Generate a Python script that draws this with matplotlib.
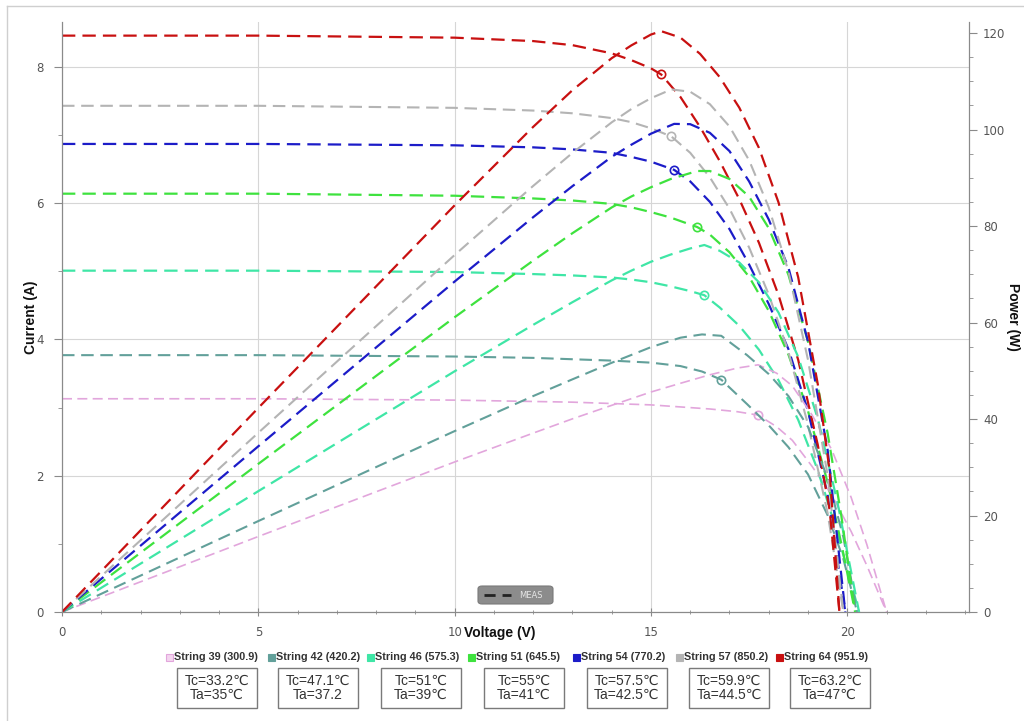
import matplotlib.pyplot as plt
from matplotlib.patches import Rectangle, FancyBboxPatch
from matplotlib.lines import Line2D
import numpy as np

# ---- data ----
labels = ['String 39 (300.9)', 'String 42 (420.2)', 'String 46 (575.3)', 'String 51 (645.5)',
          'String 54 (770.2)', 'String 57 (850.2)', 'String 64 (951.9)']
colors = ['#e2a6dc', '#62a09a', '#3fe6a6', '#3ee23e', '#1c1cc8', '#b4b4b4', '#c81010']

v39 = [0, 5, 10, 12, 13, 14, 15, 15.75, 16.5, 17.2, 17.73, 18.2, 18.6, 19.1, 19.6, 20.1, 20.5, 21.0]
i39 = [3.13, 3.13, 3.11, 3.09, 3.08, 3.06, 3.04, 3.01, 2.98, 2.94, 2.89, 2.72, 2.52, 2.14, 1.72, 1.18, 0.68, 0]

v42 = [0, 5, 10, 12, 13, 14, 15, 15.75, 16.3, 16.79, 17.45, 18, 18.5, 19, 19.5, 19.9, 20.25]
i42 = [3.77, 3.77, 3.75, 3.73, 3.71, 3.69, 3.66, 3.61, 3.53, 3.41, 3.05, 2.74, 2.42, 2.02, 1.42, 0.78, 0]

v46 = [0, 5, 10, 12, 13, 14, 14.5, 15, 15.5, 16, 16.36, 16.75, 17.25, 17.75, 18.25, 18.75, 19.25, 19.75, 20.3]
i46 = [5.01, 5.01, 4.99, 4.96, 4.94, 4.91, 4.88, 4.84, 4.78, 4.71, 4.65, 4.47, 4.20, 3.85, 3.40, 2.82, 2.08, 1.15, 0]

v51 = [0, 5, 10, 12, 13, 14, 14.5, 15, 15.5, 16.18, 16.5, 17, 17.5, 18, 18.5, 19, 19.5, 19.85, 20.2]
i51 = [6.14, 6.14, 6.11, 6.07, 6.04, 5.99, 5.94, 5.87, 5.79, 5.65, 5.54, 5.28, 4.92, 4.42, 3.78, 2.95, 1.90, 1.00, 0]

v54 = [0, 5, 10, 12, 13, 14, 14.5, 15, 15.59, 16, 16.5, 17, 17.5, 18, 18.5, 19, 19.5, 19.95]
i54 = [6.87, 6.87, 6.85, 6.82, 6.79, 6.74, 6.68, 6.61, 6.49, 6.32, 6.02, 5.62, 5.10, 4.52, 3.86, 2.95, 1.72, 0]

v57 = [0, 5, 10, 12, 13, 14, 14.5, 15, 15.52, 16, 16.5, 17, 17.5, 18, 18.5, 19, 19.5, 19.9]
i57 = [7.43, 7.43, 7.40, 7.36, 7.32, 7.25, 7.19, 7.10, 6.98, 6.74, 6.38, 5.92, 5.35, 4.66, 3.82, 2.75, 1.45, 0]

v64 = [0, 5, 10, 12, 13, 14, 14.5, 15, 15.26, 15.75, 16.25, 16.75, 17.25, 17.75, 18.25, 18.75, 19.25, 19.55, 19.8]
i64 = [8.46, 8.46, 8.43, 8.38, 8.32, 8.20, 8.10, 7.98, 7.89, 7.56, 7.12, 6.62, 6.06, 5.42, 4.65, 3.70, 2.45, 1.50, 0]

# maximum power points (circles)
mpp_v = [17.73, 16.79, 16.36, 16.18, 15.59, 15.52, 15.26]
mpp_i = [2.89, 3.41, 4.65, 5.65, 6.49, 6.98, 7.89]

tc_labels = ['Tc=33.2℃', 'Tc=47.1℃', 'Tc=51℃', 'Tc=55℃', 'Tc=57.5℃', 'Tc=59.9℃', 'Tc=63.2℃']
ta_labels = ['Ta=35℃', 'Ta=37.2', 'Ta=39℃', 'Ta=41℃', 'Ta=42.5℃', 'Ta=44.5℃', 'Ta=47℃']

volts = [v39, v42, v46, v51, v54, v57, v64]
amps = [i39, i42, i46, i51, i54, i57, i64]
widths = [1.2, 1.5, 1.6, 1.6, 1.6, 1.5, 1.6]

W, H = 1024, 721
FAM = ['Liberation Sans', 'DejaVu Sans']


def fx(px):
    return px / W


def fy(py):
    return 1 - py / H


fig = plt.figure(figsize=(10.24, 7.21), dpi=100)
ax = fig.add_axes([fx(62), fy(612), fx(969) - fx(62), fy(22) - fy(612)])
ax2 = ax.twinx()

for k in range(7):
    v = np.array(volts[k])
    i = np.array(amps[k])
    ax.plot(v, i, color=colors[k], lw=widths[k], dashes=(6, 3.2))
    ax2.plot(v, v * i, color=colors[k], lw=widths[k], dashes=(6, 3.2))
    ax.plot(mpp_v[k], mpp_i[k], 'o', mfc='none', mec=colors[k], ms=6, mew=1.2)

ax.set_xlim(0, 23.1)
ax.set_ylim(0, 8.66)
ax2.set_ylim(0, 122.3)

ax.set_xticks([0, 5, 10, 15, 20])
ax.set_xticks(np.arange(0, 23.1, 1), minor=True)
ax.set_yticks([0, 2, 4, 6, 8])
ax.set_yticks(np.arange(0, 8.7, 1), minor=True)
ax2.set_yticks([0, 20, 40, 60, 80, 100, 120])
ax2.set_yticks(np.arange(0, 122, 5), minor=True)

ax.grid(True, which='major', color='#d6d6d6', lw=0.8)
ax.set_axisbelow(True)

for a in (ax, ax2):
    a.spines['top'].set_visible(False)
    for s in ('left', 'right', 'bottom'):
        a.spines[s].set_color('#8a8a8a')
ax.tick_params(axis='both', which='major', direction='out', length=6, color='#8a8a8a',
               labelsize=8.5, labelcolor='#555555', pad=7)
ax.tick_params(axis='both', which='minor', direction='out', length=3, color='#8a8a8a')
ax.tick_params(axis='x', which='both', direction='inout')
ax2.tick_params(axis='y', which='major', direction='out', length=6, color='#8a8a8a',
                labelsize=8.5, labelcolor='#555555', pad=4)
ax2.tick_params(axis='y', which='minor', direction='out', length=3, color='#8a8a8a')

ax.set_xlabel('Voltage (V)', fontsize=10, fontweight='bold', color='#111111', family=FAM)
ax.xaxis.set_label_coords((500 - 62) / 907, -(633 - 612) / 590)
ax.xaxis.label.set_va('center')
ax.set_ylabel('Current (A)', fontsize=10, fontweight='bold', color='#111111', family=FAM)
ax.yaxis.set_label_coords(-(62 - 31) / 907, 0.5)
ax.yaxis.label.set_va('center')
ax2.set_ylabel('Power (W)', fontsize=10, fontweight='bold', color='#111111', rotation=270, family=FAM)
ax2.yaxis.set_label_coords(1 + (1013 - 969) / 907, 0.5)
ax2.yaxis.label.set_va('center')

# MEAS legend chip
fig.add_artist(FancyBboxPatch((fx(478), fy(604)), fx(553) - fx(478), (604 - 586) / H,
                              boxstyle='round,pad=0,rounding_size=0.004',
                              fc='#8c8c8c', ec='#7a7a7a', lw=0.8))
fig.add_artist(Line2D([fx(484), fx(511)], [fy(595), fy(595)], color='#222222', lw=2, dashes=(4, 2.5)))
fig.text(fx(531), fy(595), 'MEAS', fontsize=6, color='#e6e6e6', ha='center', va='center')

# string legend row
sq_x = [166, 268, 367, 468, 573, 676, 776]
for k in range(7):
    fc = '#f3d4ef' if k == 0 else colors[k]
    fig.add_artist(Rectangle((fx(sq_x[k]), fy(661)), 7 / W, 7 / H, fc=fc, ec=colors[k], lw=0.8))
    fig.text(fx(sq_x[k] + 8), fy(657.5), labels[k], fontsize=7.8, fontweight='bold',
             family=FAM, color='#333333', ha='left', va='center')

# temperature boxes
box_c = [217, 318, 421, 524, 627, 729, 830]
for k in range(7):
    fig.add_artist(Rectangle((fx(box_c[k] - 40), fy(708)), 80 / W, 40 / H, fc='white', ec='#7a7a7a', lw=1))
    fig.text(fx(box_c[k]), fy(688), tc_labels[k] + '\n' + ta_labels[k], fontsize=10,
             family=FAM, color='#333333', ha='center', va='center', linespacing=1.0)

# outer frame
fig.add_artist(Line2D([fx(7), fx(7)], [fy(6), 0], color='#cfcfcf', lw=1))
fig.add_artist(Line2D([fx(7), 1], [fy(6), fy(6)], color='#cfcfcf', lw=1))

plt.savefig('out.png', dpi=100)
